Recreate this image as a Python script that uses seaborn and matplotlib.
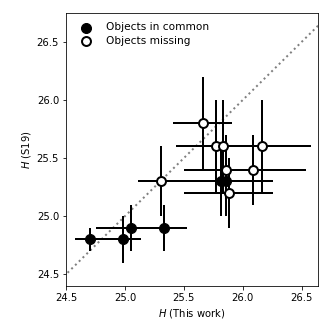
import pandas as pd
import seaborn as sns
import matplotlib.pyplot as plt

# objects in common (filled)
common_x = [24.70, 24.98, 25.05, 25.33, 25.82, 25.86]
common_y = [24.80, 24.80, 24.90, 24.90, 25.30, 25.30]
common_xerr = [0.12, 0.16, 0.30, 0.20, 0.30, 0.40]
common_yerr = [0.10, 0.20, 0.20, 0.20, 0.30, 0.30]

# objects missing (open)
missing_x = [25.31, 25.66, 25.77, 25.83, 26.16, 25.86, 26.09, 25.88]
missing_y = [25.30, 25.80, 25.60, 25.60, 25.60, 25.40, 25.40, 25.20]
missing_xerr = [0.20, 0.25, 0.34, 0.34, 0.42, 0.36, 0.45, 0.38]
missing_yerr = [0.30, 0.40, 0.40, 0.40, 0.40, 0.30, 0.30, 0.30]

TICKS = [24.5, 25.0, 25.5, 26.0, 26.5]

common = pd.DataFrame(
    {"x": common_x, "y": common_y, "xerr": common_xerr, "yerr": common_yerr}
)
missing = pd.DataFrame(
    {"x": missing_x, "y": missing_y, "xerr": missing_xerr, "yerr": missing_yerr}
)

plt.rcParams["font.size"] = 10.5

fig = plt.figure(figsize=(332 / 72, 332 / 72), dpi=72)
ax = fig.add_axes([0.199, 0.139, 0.759, 0.822])

ax.plot([24.0, 27.0], [24.0, 27.0], color="gray", linestyle=":", linewidth=2, zorder=1)

for df in (common, missing):
    ax.errorbar(
        df["x"],
        df["y"],
        xerr=df["xerr"],
        yerr=df["yerr"],
        fmt="none",
        ecolor="black",
        elinewidth=2,
        capsize=0,
        zorder=2,
    )

sns.scatterplot(
    data=common,
    x="x",
    y="y",
    ax=ax,
    s=100,
    color="black",
    edgecolor="black",
    linewidth=1,
    label="Objects in common",
    zorder=3,
)
sns.scatterplot(
    data=missing,
    x="x",
    y="y",
    ax=ax,
    s=80,
    color="white",
    edgecolor="black",
    linewidth=2,
    label="Objects missing",
    zorder=4,
)

ax.set_xlim(24.5, 26.64)
ax.set_ylim(24.4, 26.75)
ax.set_xticks(TICKS)
ax.set_yticks(TICKS)
ax.tick_params(labelsize=10)
ax.set_xlabel("$H$ (This work)", fontsize=10)
ax.set_ylabel("$H$ (S19)", fontsize=10)
ax.legend(
    loc="upper left",
    frameon=False,
    handletextpad=0.9,
    borderaxespad=0.5,
    labelspacing=0.3,
    fontsize=10.5,
)

fig.savefig("out.png", dpi=72)
